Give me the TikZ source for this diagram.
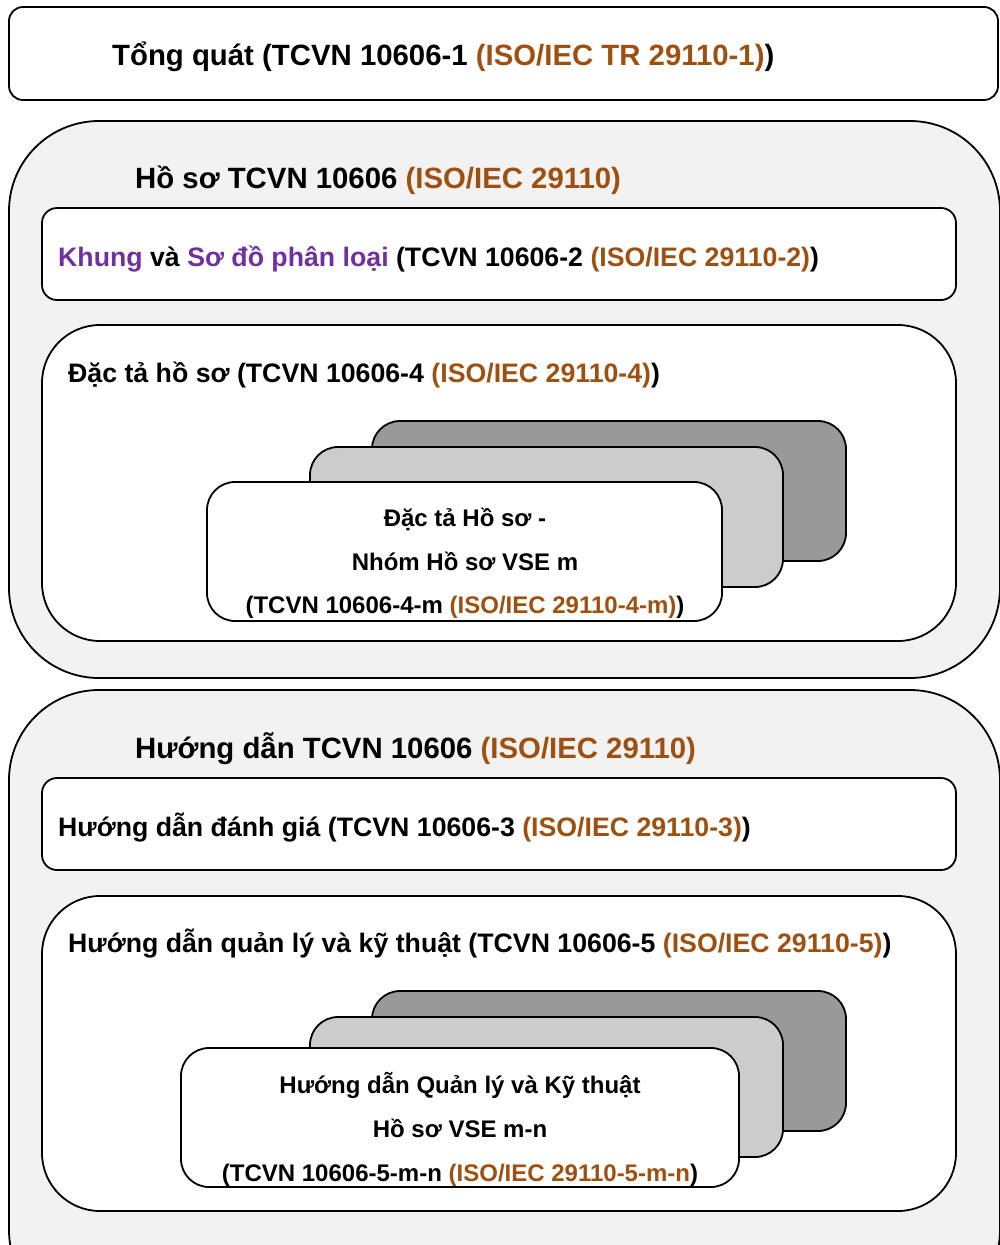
\documentclass[tikz,border=0pt]{standalone}
\usepackage{fontspec}
\setmainfont{Liberation Sans}
\definecolor{isobrown}{RGB}{158,80,16}
\definecolor{keypurple}{RGB}{112,48,160}
\definecolor{panel}{RGB}{242,242,242}
\definecolor{cardmid}{RGB}{204,204,204}
\definecolor{carddark}{RGB}{153,153,153}
\newcommand{\iso}[1]{{\color{isobrown}#1}}
\newcommand{\key}[1]{{\color{keypurple}#1}}
\begin{document}
\begin{tikzpicture}[x=1pt,y=-1pt,
  frame/.style={draw=black,line width=1.8pt},
  panelbox/.style={frame,fill=panel,rounded corners=90pt},
  linebox/.style={frame,fill=white,rounded corners=15pt},
  groupbox/.style={frame,fill=white,rounded corners=58pt},
  backcard/.style={frame,fill=carddark,rounded corners=28pt},
  midcard/.style={frame,fill=cardmid,rounded corners=28pt},
  bigtitle/.style={inner sep=0pt,anchor=base west,font=\fontsize{29.35}{34}\selectfont\bfseries},
  boxtitle/.style={inner sep=0pt,anchor=base west,font=\fontsize{26.7}{31}\selectfont\bfseries},
  cardtext/.style={inner sep=0pt,anchor=base,font=\fontsize{24}{28}\selectfont\bfseries}]
\useasboundingbox (0,0) rectangle (1000,1245);
\clip (0,0) rectangle (1000,1245);

% general part
\draw[linebox,rounded corners=14pt] (9,7) rectangle (998,100);
\node[bigtitle] (general) at (112,65) {Tổng quát (TCVN 10606-1 \iso{(ISO/IEC TR 29110-1)})};

% profiles panel
\draw[panelbox] (9,121) rectangle (1000,678);
\node[bigtitle] (profiles) at (135,188) {Hồ sơ TCVN 10606 \iso{(ISO/IEC 29110)}};
\draw[linebox] (42,208) rectangle (956,300);
\node[boxtitle] (framework) at (58,266) {\key{Khung} và \key{Sơ đồ phân loại} (TCVN 10606-2 \iso{(ISO/IEC 29110-2)})};
\draw[groupbox] (42,325) rectangle (956,641);
\node[boxtitle] (specs) at (68,382) {Đặc tả hồ sơ (TCVN 10606-4 \iso{(ISO/IEC 29110-4)})};
\draw[backcard] (372,421) rectangle (846,561);
\draw[midcard] (310,447) rectangle (783,587);
\fill[white,rounded corners=28pt] (207,482) rectangle (722,621);
\begin{scope}
  \clip[rounded corners=28pt] (207,482) rectangle (722,621);
  \node[cardtext] (specA) at (465,526) {Đặc tả Hồ sơ -};
  \node[cardtext] (specB) at (465,570) {Nhóm Hồ sơ VSE m};
  \node[cardtext] (specC) at (465,613) {(TCVN 10606-4-m \iso{(ISO/IEC 29110-4-m)})};
\end{scope}
\draw[frame,rounded corners=28pt] (207,482) rectangle (722,621);

% guides panel
\draw[panelbox] (9,690) rectangle (1000,1320);
\node[bigtitle] (guides) at (135,758) {Hướng dẫn TCVN 10606 \iso{(ISO/IEC 29110)}};
\draw[linebox] (42,778) rectangle (956,870);
\node[boxtitle] (assess) at (58,836) {Hướng dẫn đánh giá (TCVN 10606-3 \iso{(ISO/IEC 29110-3)})};
\draw[groupbox] (42,896) rectangle (956,1211);
\node[boxtitle] (mgmt) at (68,952) {Hướng dẫn quản lý và kỹ thuật (TCVN 10606-5 \iso{(ISO/IEC 29110-5)})};
\draw[backcard] (372,991) rectangle (846,1131);
\draw[midcard] (310,1017) rectangle (783,1157);
\fill[white,rounded corners=28pt] (181,1048) rectangle (739,1187);
\begin{scope}
  \clip[rounded corners=28pt] (181,1048) rectangle (739,1187);
  \node[cardtext] (guideA) at (460,1093) {Hướng dẫn Quản lý và Kỹ thuật};
  \node[cardtext] (guideB) at (460,1137) {Hồ sơ VSE m-n};
  \node[cardtext] (guideC) at (460,1181) {(TCVN 10606-5-m-n \iso{(ISO/IEC 29110-5-m-n})};
\end{scope}
\draw[frame,rounded corners=28pt] (181,1048) rectangle (739,1187);
\end{tikzpicture}
\end{document}
